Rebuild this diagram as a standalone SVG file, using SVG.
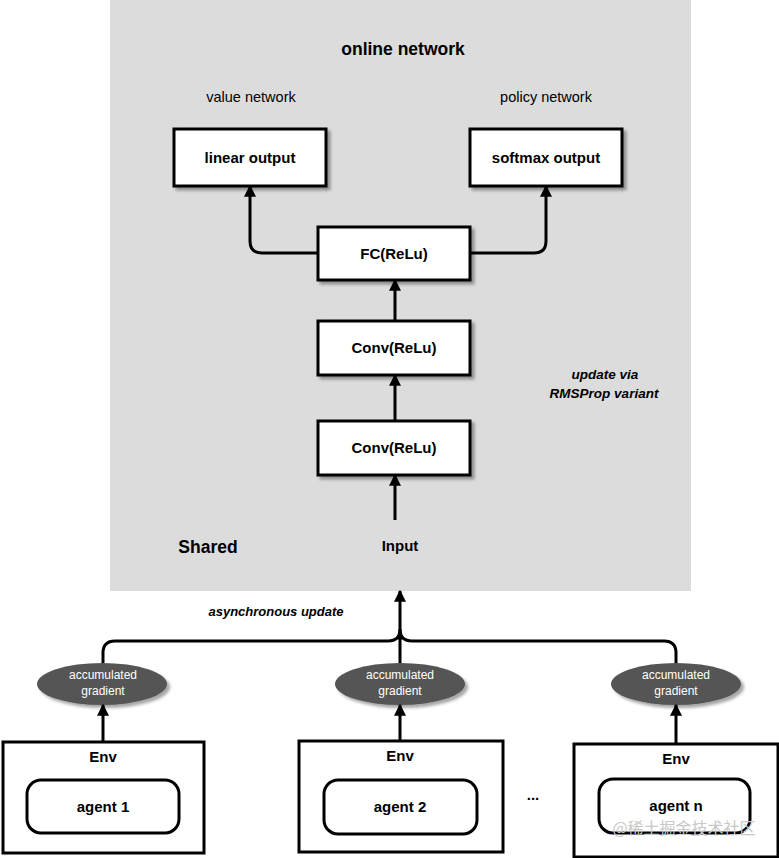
<svg xmlns="http://www.w3.org/2000/svg" width="779" height="858" viewBox="0 0 779 858">
<style>
text{font-family:"Liberation Sans",Arial,sans-serif;fill:#000}
.b{font-weight:bold;font-size:15px}
.t{font-size:17.5px;font-weight:bold}
.n{font-size:14.5px}
.i{font-style:italic;font-weight:bold;font-size:13.5px}
.box{fill:#fff;stroke:#000;stroke-width:3}
.ell{fill:#555}
.w{fill:#fff;font-size:12px}
.c{fill:none;stroke:#000;stroke-width:3}
</style>
<defs>
<filter id="sh" x="-10%" y="-10%" width="130%" height="140%">
<feDropShadow dx="3" dy="3" stdDeviation="1.5" flood-color="#000" flood-opacity="0.35"/>
</filter>
<marker id="ah" viewBox="0 0 10 10" refX="9" refY="5" markerWidth="4" markerHeight="4" orient="auto" markerUnits="strokeWidth">
<path d="M0,0L10,5L0,10z" fill="#000"/>
</marker>
</defs>
<rect x="110" y="0" width="581" height="591" fill="#dcdcdc"/>
<text class="t" x="403" y="55" text-anchor="middle">online network</text>
<text class="n" x="251" y="102" text-anchor="middle">value network</text>
<text class="n" x="546" y="102" text-anchor="middle">policy network</text>
<text class="t" x="208" y="553" text-anchor="middle">Shared</text>
<text class="i" x="605" y="379" text-anchor="middle">update via</text>
<text class="i" x="604" y="398" text-anchor="middle">RMSProp variant</text>
<text class="i" x="276" y="616" text-anchor="middle" style="font-size:13px">asynchronous update</text>
<g id="linear"><rect class="box" x="174" y="129" width="152" height="57" filter="url(#sh)"/><text class="b" x="250" y="163" text-anchor="middle">linear output</text></g>
<g id="softmax"><rect class="box" x="470" y="129" width="152" height="57" filter="url(#sh)"/><text class="b" x="546" y="163" text-anchor="middle">softmax output</text></g>
<g id="fc"><rect class="box" x="318" y="227" width="152" height="53" filter="url(#sh)"/><text class="b" x="394" y="259" text-anchor="middle">FC(ReLu)</text></g>
<g id="conv1"><rect class="box" x="318" y="321" width="152" height="54" filter="url(#sh)"/><text class="b" x="394" y="353" text-anchor="middle">Conv(ReLu)</text></g>
<g id="conv2"><rect class="box" x="318" y="421" width="152" height="54" filter="url(#sh)"/><text class="b" x="394" y="453" text-anchor="middle">Conv(ReLu)</text></g>
<g id="input"><text class="b" x="400" y="551" text-anchor="middle">Input</text></g>
<g id="g1"><ellipse class="ell" cx="102" cy="684" rx="65" ry="21" filter="url(#sh)"/><text class="w" x="103" y="679" text-anchor="middle">accumulated</text><text class="w" x="103" y="695" text-anchor="middle">gradient</text></g>
<g id="g2"><ellipse class="ell" cx="400" cy="684" rx="65" ry="21" filter="url(#sh)"/><text class="w" x="400" y="679" text-anchor="middle">accumulated</text><text class="w" x="400" y="695" text-anchor="middle">gradient</text></g>
<g id="g3"><ellipse class="ell" cx="676" cy="684" rx="65" ry="21" filter="url(#sh)"/><text class="w" x="676" y="679" text-anchor="middle">accumulated</text><text class="w" x="676" y="695" text-anchor="middle">gradient</text></g>
<g id="env1"><rect class="box" x="3" y="742" width="201" height="111"/><text class="b" x="103" y="762" text-anchor="middle">Env</text><rect class="box" x="27" y="780" width="152" height="53" rx="14"/><text class="b" x="103" y="812" text-anchor="middle">agent 1</text></g>
<g id="env2"><rect class="box" x="299" y="741" width="204" height="111"/><text class="b" x="400" y="761" text-anchor="middle">Env</text><rect class="box" x="324" y="780" width="153" height="54" rx="14"/><text class="b" x="400" y="812" text-anchor="middle">agent 2</text></g>
<g id="env3"><rect class="box" x="574" y="744" width="204" height="113"/><text class="b" x="676" y="764" text-anchor="middle">Env</text><rect class="box" x="599" y="779" width="151" height="54" rx="14"/><text class="b" x="676" y="811" text-anchor="middle">agent n</text></g>
<text class="b" x="533" y="800" text-anchor="middle">...</text>
<g id="connectors">
<path class="c" d="M318,253H262Q250,253 250,241V186" marker-end="url(#ah)"/>
<path class="c" d="M470,253H534Q546,253 546,241V186" marker-end="url(#ah)"/>
<path class="c" d="M395,321V280" marker-end="url(#ah)"/>
<path class="c" d="M395,421V375" marker-end="url(#ah)"/>
<path class="c" d="M395,520V475" marker-end="url(#ah)"/>
<path class="c" d="M103,663V653Q103,641 115,641H388Q400,641 400,629M676,663V653Q676,641 664,641H412Q400,641 400,629M400,663V629" />
<path class="c" d="M400,640V591" marker-end="url(#ah)"/>
<path class="c" d="M103,742V705" marker-end="url(#ah)"/>
<path class="c" d="M400,741V705" marker-end="url(#ah)"/>
<path class="c" d="M676,744V705" marker-end="url(#ah)"/>
</g>
<text x="684" y="834" text-anchor="middle" style="font-family:'Noto Sans CJK SC',sans-serif;font-size:16px;fill:#c8c8c8">@稀土掘金技术社区</text>
</svg>
